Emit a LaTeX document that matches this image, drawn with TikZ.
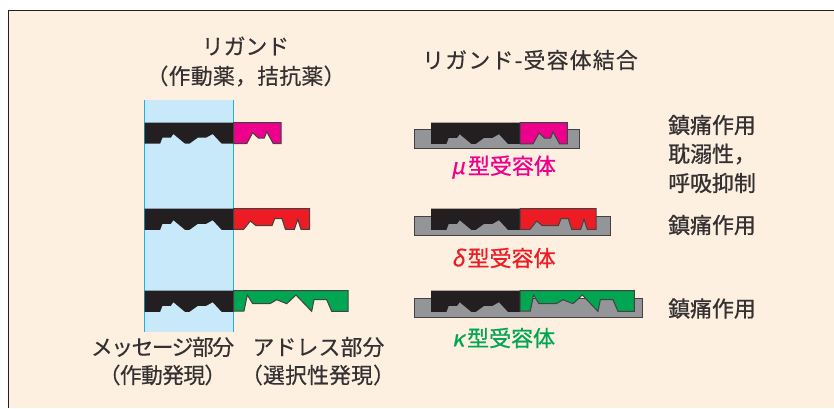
\documentclass[tikz,border=0pt]{standalone}
\usepackage{fontspec}
\setmainfont[FakeBold=0.4]{Noto Sans CJK JP}
\newfontfamily\heavier[FakeBold=0.9]{Noto Sans CJK JP}
\newfontfamily\slantgreek[FakeSlant=0.2,FakeBold=0.6]{Noto Sans CJK JP}
\definecolor{cream}{HTML}{FEF0E1}
\definecolor{bandblue}{HTML}{C7E9FA}
\definecolor{bandline}{HTML}{1CB0EC}
\definecolor{inkblack}{HTML}{231F20}
\definecolor{plate}{HTML}{939598}
\definecolor{mupink}{HTML}{EC008C}
\definecolor{deltared}{HTML}{ED1C24}
\definecolor{kappagreen}{HTML}{00A651}
\tikzset{
  x=1pt,y=-1pt,
  lbl/.style={font=\fontsize{21.8}{26}\selectfont,text=inkblack!92,inner sep=0pt,align=center},
  effect/.style={font=\heavier\fontsize{21.9}{26}\selectfont,text=inkblack!92,inner sep=0pt,anchor=west},
  rlabel/.style={font=\heavier\fontsize{22}{26}\selectfont,inner sep=0pt},
  piece/.style={draw=inkblack!85,line width=1pt,line join=miter},
  plateshape/.style={fill=plate,draw=inkblack!85,line width=1pt}
}
% message part of a ligand, origin at its upper left corner
\newcommand{\messagepart}[1]{
  \fill[inkblack,shift={(#1)}] (0,0) -- (89,0) -- (89,21.2) -- (77,21.2) -- (68,11.5) -- (61.3,15.2)
    -- (53,15.2) -- (44.7,21.2) -- (40.4,21.2) -- (28.7,11.5) -- (26,15.2) -- (17.7,15.2) -- (15.4,21.2) -- (0,21.2) -- cycle;
}
% address parts, origin at the upper left corner of the part
\newcommand{\mupart}[1]{
  \filldraw[piece,fill=mupink,shift={(#1)}] (0,0) -- (47.3,0) -- (47.3,21.2) -- (39.6,21.2) -- (33,9.2) -- (30.6,15.5)
    -- (24.6,15.5) -- (19,10.2) -- (13,21.2) -- (0,21.2) -- cycle;
}
\newcommand{\deltapart}[1]{
  \filldraw[piece,fill=deltared,shift={(#1)}] (0,0) -- (76,0) -- (76,20.6) -- (67.3,20.6) -- (64,10.6) -- (60.7,20.6)
    -- (51.7,20.6) -- (48.3,10) -- (41,10) -- (38.3,17) -- (22.3,17) -- (16.7,12.3) -- (10,20.6) -- (0,20.6) -- cycle;
}
\newcommand{\kappapart}[1]{
  \filldraw[piece,fill=kappagreen,shift={(#1)}] (0,0) -- (114.3,0) -- (114.3,20.7) -- (98,20.7) -- (93,9) -- (80.3,9)
    -- (78,20.7) -- (62.3,4.3) -- (53,13) -- (43,9) -- (36.3,13) -- (19,13) -- (13.6,4.3) -- (10.3,20.3) -- (0,20.3) -- cycle;
}
\begin{document}
\begin{tikzpicture}
\useasboundingbox (0,0) rectangle (834,408);
\fill[white] (0,0) rectangle (834,408);
\fill[cream] (8.3,10.3) rectangle (834,408);
\draw[inkblack,line width=1pt] (834,10.3) -- (8.3,10.3) -- (8.3,408);
% free ligands on the blue band
\fill[bandblue] (144,100) rectangle (233.6,332);
\draw[bandline,line width=0.8pt] (144,100) -- (144,332);
\draw[bandline,line width=0.8pt] (233.6,100) -- (233.6,332);
\messagepart{144.7,122.5}
\mupart{233.7,122.5}
\messagepart{144.7,208.7}
\deltapart{233.7,208.7}
\messagepart{144.7,290.7}
\kappapart{233.7,290.7}
% ligands bound to their receptor plates
\filldraw[plateshape] (414,129.3) rectangle (579.3,148.3);
\messagepart{431,122.7}
\mupart{520,122.7}
\filldraw[plateshape] (414,216.7) rectangle (610,235.3);
\messagepart{431,208.7}
\deltapart{520,208.7}
\filldraw[plateshape] (414,298.3) rectangle (642.7,317);
\messagepart{431,290.7}
\kappapart{520,290.7}
% labels
\node[lbl] (ligand) at (245.5,46) {リガンド};
\node[lbl] (ligandkind) at (246,76) {\addfontfeature{LetterSpace=1.5}（作動薬，拮抗薬）};
\node[lbl] (bound) at (530,60) {\addfontfeature{LetterSpace=6}リガンド-受容体結合};
\node[lbl] (msg) at (162.5,347) {\addfontfeature{LetterSpace=-7}メッセージ部分};
\node[lbl] (msgsub) at (162.5,375) {\addfontfeature{LetterSpace=-3}（作動発現）};
\node[lbl] (addr) at (318.5,347) {\addfontfeature{LetterSpace=1}アドレス部分};
\node[lbl] (addrsub) at (318,375) {\addfontfeature{LetterSpace=1}（選択性発現）};
\node[rlabel,text=mupink] (mu) at (503.5,167) {{\slantgreek μ}\hspace{3pt}型受容体};
\node[rlabel,text=deltared] (delta) at (503.5,258) {{\slantgreek δ}\hspace{3pt}型受容体};
\node[rlabel,text=kappagreen] (kappa) at (503.5,338) {{\slantgreek κ}\hspace{3pt}型受容体};
\node[effect] (e1) at (668,125) {鎮痛作用};
\node[effect] (e2) at (668,154) {耽溺性，};
\node[effect] (e3) at (668,183) {呼吸抑制};
\node[effect] (e4) at (668,225) {鎮痛作用};
\node[effect] (e5) at (668,308.5) {鎮痛作用};
\end{tikzpicture}
\end{document}
